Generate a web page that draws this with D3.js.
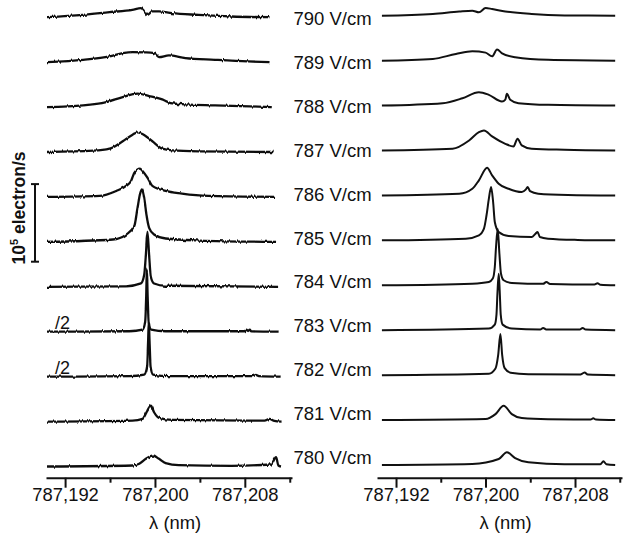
<!DOCTYPE html>
<html>
<head>
<meta charset="utf-8">
<script src="https://cdn.jsdelivr.net/npm/d3@7"></script>
<style>
  body { margin: 0; background: #fff; }
  svg { display: block; }
  text { font-family: "Liberation Sans", Arial, Helvetica, sans-serif; fill: #111; }
</style>
</head>
<body>
<svg id="chart" width="628" height="533"></svg>
<script>
// Electric field of each spectrum, bottom to top
const fields = [780, 781, 782, 783, 784, 785, 786, 787, 788, 789, 790];
// Spectra plotted at half intensity in the measured panel
const halved = [782, 783];
const majorTicks = [787.192, 787.200, 787.208];
const minorTicks = [787.196, 787.204, 787.212];
const scaleBarValue = 100; // 10^5 electron/s, in units of 10^3 electron/s

// Measured spectra: [wavelength (nm), signal (10^3 electron/s)]
const meas780 = [[787.19039,0],[787.19801,1.3],[787.19860,3.5],[787.19919,9.9],[787.19983,14.2],[787.20036,9.9],[787.20095,4.3],[787.20212,1.7],[787.20681,0.9],[787.21034,2.6],[787.21078,12.0],[787.21099,1.3],[787.21122,0]];
const meas781 = [[787.19039,0],[787.19801,1.3],[787.19889,3.5],[787.19933,14.2],[787.19963,20.6],[787.19992,12.0],[787.20036,4.8],[787.20153,2.2],[787.20976,1.3],[787.21020,3.5],[787.21063,0.9],[787.21127,0]];
const meas782 = [[787.19039,0],[787.19772,1.2],[787.19904,5.2],[787.19930,25.8],[787.19939,90.4],[787.19945,142],[787.19952,90.4],[787.19961,25.8],[787.19983,5.2],[787.20124,1.2],[787.20873,1.2],[787.20899,4.4],[787.20925,1.2],[787.21119,0]];
const meas783 = [[787.19039,0],[787.19772,1.2],[787.19889,5.2],[787.19913,25.8],[787.19922,90.4],[787.19928,162.6],[787.19935,90.4],[787.19944,25.8],[787.19966,5.2],[787.20095,1.2],[787.20800,1.2],[787.20814,5.2],[787.20829,1.8],[787.20844,5.2],[787.20858,0.8],[787.21101,0]];
const meas784 = [[787.19039,0],[787.19743,0.6],[787.19875,4.3],[787.19904,15.1],[787.19919,40.9],[787.19933,71.0],[787.19948,40.9],[787.19963,12.9],[787.19992,4.3],[787.20095,1.3],[787.21096,0]];
const meas785 = [[787.19039,0],[787.19625,3.0],[787.19743,9.4],[787.19816,20.3],[787.19845,43.9],[787.19866,61.0],[787.19884,67.5],[787.19904,56.8],[787.19924,35.2],[787.19948,18.1],[787.19992,9.4],[787.20095,4.3],[787.20388,1.7],[787.21078,0]];
const meas786 = [[787.19039,0],[787.19508,1.3],[787.19655,7.7],[787.19743,14.2],[787.19787,20.6],[787.19816,31.0],[787.19866,36.5],[787.19889,33.5],[787.19933,24.9],[787.19977,14.2],[787.20095,7.7],[787.20241,4.3],[787.20476,1.3],[787.21069,0]];
const meas787 = [[787.19039,0],[787.19449,1.7],[787.19596,4.3],[787.19713,13.8],[787.19801,22.3],[787.19845,25.4],[787.19889,23.2],[787.19977,13.8],[787.20065,4.3],[787.20153,2.2],[787.20388,0.9],[787.21057,0]];
const meas788 = [[787.19039,0],[787.19361,2.2],[787.19567,6.5],[787.19713,12.9],[787.19845,17.2],[787.19948,14.2],[787.20065,9.9],[787.20139,5.2],[787.20271,3.5],[787.20535,2.2],[787.21040,0]];
const meas789 = [[787.19039,0],[787.19361,3.0],[787.19596,7.4],[787.19713,11.6],[787.19801,12.9],[787.19919,12.5],[787.19992,11.6],[787.20036,6.5],[787.20124,8.6],[787.20271,5.2],[787.20535,3.0],[787.20829,0.9],[787.21020,0]];
const meas790 = [[787.19039,0],[787.19358,3.0],[787.19596,6.5],[787.19799,9.4],[787.19875,11.6],[787.19904,7.7],[787.19933,3.0],[787.19975,7.4],[787.20036,7.4],[787.20151,5.2],[787.20388,3.0],[787.20679,0.9],[787.21020,0]];

// Calculated spectra: [wavelength (nm), signal (10^3 electron/s)]
const calc780 = [[787.19074,0],[787.19882,1.3],[787.20118,7.7],[787.20191,16.4],[787.20265,9.0],[787.20383,3.5],[787.20707,1.0],[787.21027,1.0],[787.21054,4.8],[787.21080,1.0],[787.21159,0]];
const calc781 = [[787.19074,0],[787.20001,1.3],[787.20089,7.7],[787.20162,18.4],[787.20235,7.7],[787.20324,2.6],[787.20559,1.0],[787.20939,0.6],[787.20963,2.2],[787.20987,0.6],[787.21159,0]];
const calc782 = [[787.19074,0],[787.20030,1.9],[787.20089,8.6],[787.20113,25.8],[787.20133,52.9],[787.20149,25.8],[787.20171,9.0],[787.20224,3.2],[787.20383,1.3],[787.20842,0.8],[787.20868,2.2],[787.20886,3.5],[787.20913,0.8],[787.21159,0]];
const calc783 = [[787.19074,0],[787.20030,2.1],[787.20083,7.2],[787.20098,20.1],[787.20106,45.9],[787.20118,72.6],[787.20127,50.3],[787.20136,20.1],[787.20153,7.2],[787.20235,2.1],[787.20489,1.0],[787.20515,3.0],[787.20542,1.0],[787.20842,0.8],[787.20868,3.0],[787.20895,0.8],[787.21159,0]];
const calc784 = [[787.19074,0],[787.19882,2.1],[787.20030,4.3],[787.20065,8.6],[787.20083,23.6],[787.20094,49.4],[787.20109,73.0],[787.20124,40.9],[787.20138,15.1],[787.20162,6.5],[787.20235,3.0],[787.20515,1.9],[787.20544,4.3],[787.20577,1.7],[787.20974,1.0],[787.21001,2.6],[787.21027,0.8],[787.21159,0]];
const calc785 = [[787.19074,0],[787.19824,2.2],[787.19941,6.5],[787.19986,15.1],[787.20009,32.3],[787.20030,53.8],[787.20050,68.8],[787.20068,49.4],[787.20083,23.6],[787.20118,10.7],[787.20206,5.5],[787.20412,4.3],[787.20447,8.6],[787.20465,10.7],[787.20486,4.3],[787.20559,2.2],[787.20824,0.6],[787.21159,0]];
const calc786 = [[787.19074,0],[787.19765,2.2],[787.19882,8.6],[787.19941,19.4],[787.20014,35.6],[787.20059,25.8],[787.20118,15.1],[787.20206,8.6],[787.20324,4.3],[787.20359,7.4],[787.20377,10.7],[787.20398,5.5],[787.20471,2.2],[787.20736,0.6],[787.21159,0]];
const calc787 = [[787.19074,0],[787.19706,2.2],[787.19853,12.9],[787.19941,23.6],[787.19986,25.8],[787.20059,18.1],[787.20177,8.6],[787.20250,5.2],[787.20286,15.1],[787.20324,6.5],[787.20412,2.2],[787.20707,0.9],[787.21159,0]];
const calc788 = [[787.19074,0],[787.19617,3.0],[787.19794,9.4],[787.19941,17.2],[787.20030,13.8],[787.20147,5.2],[787.20177,7.7],[787.20191,15.1],[787.20221,7.4],[787.20294,3.0],[787.20559,0.9],[787.21159,0]];
const calc789 = [[787.19074,0],[787.19529,2.2],[787.19735,8.6],[787.19882,12.0],[787.20001,10.3],[787.20059,5.5],[787.20103,14.2],[787.20148,9.4],[787.20265,4.3],[787.20559,1.0],[787.21159,0]];
const calc790 = [[787.19074,0],[787.19529,2.2],[787.19765,5.5],[787.19882,6.5],[787.19941,4.3],[787.20001,9.9],[787.20059,8.6],[787.20177,5.5],[787.20412,2.2],[787.20707,0.4],[787.21159,0]];

const measured = [meas780, meas781, meas782, meas783, meas784, meas785, meas786, meas787, meas788, meas789, meas790];
const calculated = [calc780, calc781, calc782, calc783, calc784, calc785, calc786, calc787, calc788, calc789, calc790];

// ---- layout ----
const svg = d3.select("#chart");
const STEP = 57.9;                 // vertical offset between spectra, 10^3 electron/s
const amp = d3.scaleLinear().domain([0, 100]).range([0, 77.6]);
const lambdaDomain = [787.1903, 787.2122];
const axisY = 477.7;
const FONT = '"Liberation Sans", Arial, sans-serif';

const panels = [
  { data: measured, x: d3.scaleLinear().domain(lambdaDomain).range([46, 292]), base: 466.5, noisy: true },
  { data: calculated, x: d3.scaleLinear().domain(lambdaDomain).range([377, 622]), base: 465, noisy: false }
];

// detector noise on the measured traces: vertical-only jitter
const defs = svg.append("defs");
const f = defs.append("filter").attr("id", "grain")
  .attr("x", "-2%").attr("y", "-20%").attr("width", "104%").attr("height", "140%");
f.append("feTurbulence").attr("type", "fractalNoise").attr("baseFrequency", "0.55 0.015")
  .attr("numOctaves", 2).attr("seed", 11).attr("result", "n");
f.append("feColorMatrix").attr("in", "n").attr("type", "matrix")
  .attr("values", "0 0 0 0 0.5  0 1 0 0 0  0 0 1 0 0  0 0 0 0 1").attr("result", "ny");
f.append("feDisplacementMap").attr("in", "SourceGraphic").attr("in2", "ny")
  .attr("scale", 3).attr("xChannelSelector", "R").attr("yChannelSelector", "G");

const locale = d3.formatLocale({ decimal: ",", thousands: ".", grouping: [3], currency: ["", ""] });
const fmt = locale.format(".3f");

panels.forEach((p, pi) => {
  const g = svg.append("g");
  const traces = g.append("g").attr("fill", "none").attr("stroke", "#111")
    .attr("stroke-width", p.noisy ? 2.3 : 2).attr("stroke-linejoin", "round");
  if (p.noisy) traces.attr("filter", "url(#grain)");

  p.data.forEach((pts, i) => {
    const div = (pi === 0 && halved.includes(fields[i])) ? 2 : 1;
    const y0 = p.base - amp(i * STEP);
    const line = d3.line()
      .x(d => p.x(d[0]))
      .y(d => y0 - amp(d[1] / div))
      .curve(d3.curveMonotoneX);
    traces.append("path").attr("d", line(pts));
  });

  // wavelength axis: labelled major ticks and shorter minor ticks
  const major = d3.axisBottom(p.x).tickValues(majorTicks).tickSize(10).tickSizeOuter(0)
    .tickPadding(0).tickFormat(fmt);
  const minor = d3.axisBottom(p.x).tickValues(minorTicks).tickSize(5).tickSizeOuter(0)
    .tickFormat("");
  const ax = g.append("g").attr("transform", `translate(0,${axisY})`).call(major);
  g.append("g").attr("transform", `translate(0,${axisY})`).call(minor)
    .select(".domain").remove();
  g.selectAll(".domain, .tick line").attr("stroke", "#111").attr("stroke-width", 2);
  ax.selectAll(".tick text").attr("font-size", 18.4).attr("fill", "#111")
    .style("font-family", FONT);

  g.append("text").attr("x", p.x(787.2018)).attr("y", 528.5)
    .attr("text-anchor", "middle").attr("font-size", 18.4).text("λ (nm)");
});

// field labels between the panels
const labelY = d3.scaleLinear().domain([780, 790]).range([464, 25]);
svg.append("g").selectAll("text").data(fields).join("text")
  .attr("x", 332.5).attr("y", d => labelY(d))
  .attr("text-anchor", "middle").attr("font-size", 18.5)
  .text(d => `${d} V/cm`);

// "/2" markers on halved measured spectra
halved.forEach(v => {
  const i = fields.indexOf(v);
  svg.append("text").attr("x", 55).attr("y", panels[0].base - amp(i * STEP) - 3)
    .attr("font-size", 18).text("/2");
});

// intensity scale bar
const barBottom = 261.7, barX = 35;
const bar = svg.append("g").attr("stroke", "#111").attr("stroke-width", 2);
bar.append("line").attr("x1", barX).attr("x2", barX)
  .attr("y1", barBottom).attr("y2", barBottom - amp(scaleBarValue));
[barBottom, barBottom - amp(scaleBarValue)].forEach(yy =>
  bar.append("line").attr("x1", barX - 4).attr("x2", barX + 4).attr("y1", yy).attr("y2", yy));

const yl = svg.append("text")
  .attr("transform", "translate(25,208) rotate(-90)")
  .attr("text-anchor", "middle").attr("font-size", 17.5).attr("font-weight", "bold");
yl.append("tspan").text("10");
yl.append("tspan").attr("dy", -7).attr("font-size", 11).text("5");
yl.append("tspan").attr("dy", 7).text(" electron/s");
</script>
</body>
</html>
